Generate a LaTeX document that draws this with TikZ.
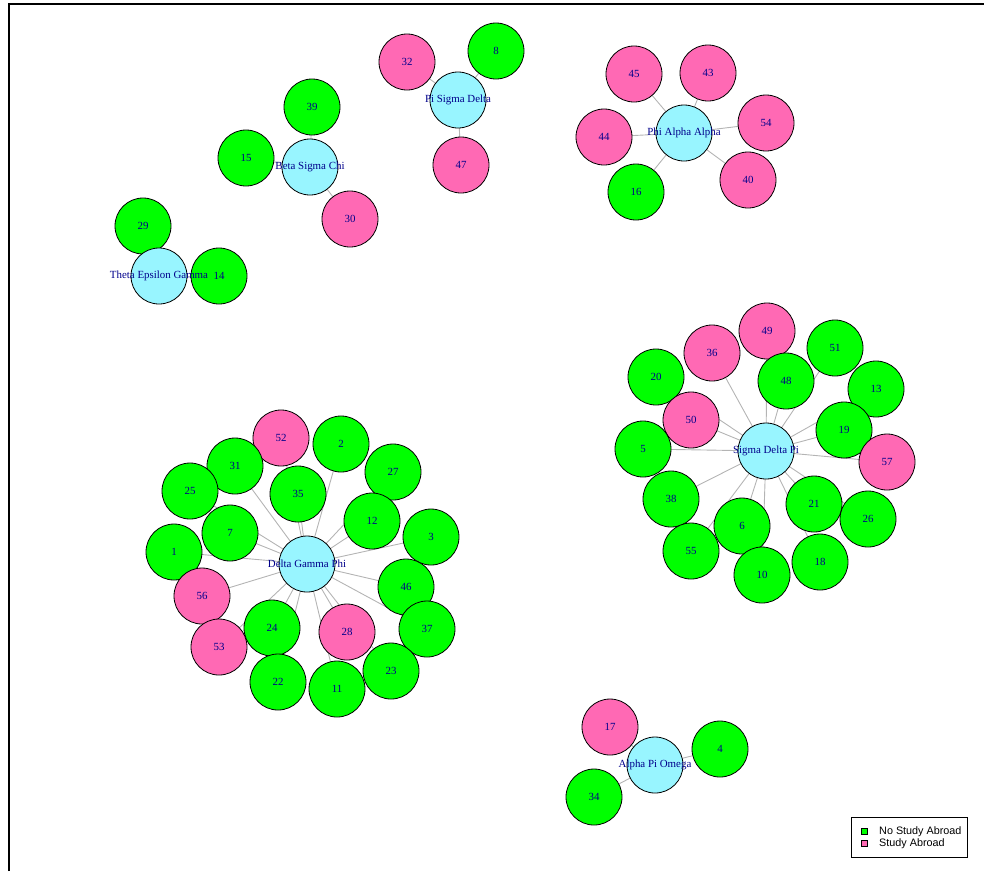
\documentclass[tikz,border=0pt]{standalone}
\usepackage{fontspec}
\setmainfont{Liberation Serif}
\newfontfamily\legfont{Liberation Sans}
\usetikzlibrary{backgrounds}
\definecolor{ngreen}{RGB}{0,255,0}
\definecolor{npink}{RGB}{255,105,180}
\definecolor{ncyan}{RGB}{152,245,255}
\definecolor{labblue}{RGB}{0,0,139}
\definecolor{edgegray}{RGB}{180,180,180}
\tikzset{
  vbase/.style={circle,draw=black,line width=0.8pt,minimum size=56pt,inner sep=0pt,
    font=\fontsize{10.9}{12}\selectfont,text=labblue},
  gnode/.style={vbase,fill=ngreen},
  pnode/.style={vbase,fill=npink},
  cnode/.style={vbase,fill=ncyan},
  clab/.style={inner sep=0pt,font=\fontsize{10.9}{12}\selectfont,text=labblue},
  edge/.style={draw=edgegray,line width=0.9pt},
  legsq/.style={draw=black,line width=0.6pt,minimum size=6pt,inner sep=0pt},
  legtxt/.style={anchor=west,inner sep=0pt,font=\legfont\fontsize{10.8}{12}\selectfont}
}
\begin{document}
\begin{tikzpicture}[x=1pt,y=-1pt]
\useasboundingbox (0,0) rectangle (984,871);
% frame
\draw[line width=2pt] (9,871) coordinate (fbl) -- (9,4.3) coordinate (ftl) -- (984,4.3) coordinate (ftr);

% Theta Epsilon Gamma
\node[gnode] (n29) at (143,226) {29};
\node[cnode] (teg) at (159,276) {};
\node[gnode] (n14) at (219,276) {14};
% Beta Sigma Chi
\node[gnode] (n39) at (312,107) {39};
\node[gnode] (n15) at (246,158) {15};
\node[cnode] (bsc) at (310,167) {};
\node[pnode] (n30) at (350,219) {30};
% Pi Sigma Delta
\node[pnode] (n32) at (407,62) {32};
\node[gnode] (n8) at (496,51) {8};
\node[cnode] (psd) at (458,100) {};
\node[pnode] (n47) at (461,165) {47};
% Phi Alpha Alpha
\node[pnode] (n45) at (634,74) {45};
\node[pnode] (n43) at (708,73) {43};
\node[pnode] (n54) at (766,123) {54};
\node[pnode] (n44) at (604,137) {44};
\node[cnode] (paa) at (684,133) {};
\node[gnode] (n16) at (636,192) {16};
\node[pnode] (n40) at (748,180) {40};
% Delta Gamma Phi
\node[cnode] (dgp) at (307,564) {};
\node[pnode] (n52) at (281,438) {52};
\node[gnode] (n2) at (341,444) {2};
\node[gnode] (n31) at (235,466) {31};
\node[gnode] (n27) at (393,472) {27};
\node[gnode] (n25) at (190,491) {25};
\node[gnode] (n35) at (298,494) {35};
\node[gnode] (n12) at (372,521) {12};
\node[gnode] (n7) at (230,533) {7};
\node[gnode] (n3) at (431,537) {3};
\node[gnode] (n1) at (174,552) {1};
\node[gnode] (n46) at (406,587) {46};
\node[pnode] (n56) at (202,596) {56};
\node[gnode] (n37) at (427,629) {37};
\node[gnode] (n24) at (272,628) {24};
\node[pnode] (n28) at (347,632) {28};
\node[pnode] (n53) at (219,647) {53};
\node[gnode] (n23) at (391,671) {23};
\node[gnode] (n22) at (278,682) {22};
\node[gnode] (n11) at (337,689) {11};
% Sigma Delta Pi
\node[cnode] (sdp) at (766,451) {};
\node[pnode] (n49) at (767,331) {49};
\node[gnode] (n51) at (835,348) {51};
\node[pnode] (n36) at (712,353) {36};
\node[gnode] (n20) at (656,377) {20};
\node[gnode] (n48) at (786,381) {48};
\node[gnode] (n13) at (876,389) {13};
\node[pnode] (n50) at (691,420) {50};
\node[gnode] (n19) at (844,430) {19};
\node[gnode] (n5) at (643,449) {5};
\node[pnode] (n57) at (887,462) {57};
\node[gnode] (n38) at (671,499) {38};
\node[gnode] (n21) at (814,504) {21};
\node[gnode] (n26) at (868,519) {26};
\node[gnode] (n6) at (742,526) {6};
\node[gnode] (n55) at (691,551) {55};
\node[gnode] (n18) at (820,562) {18};
\node[gnode] (n10) at (762,575) {10};
% Alpha Pi Omega
\node[pnode] (n17) at (610,727) {17};
\node[gnode] (n4) at (720,749) {4};
\node[cnode] (apo) at (655,765) {};
\node[gnode] (n34) at (594,797) {34};

% centre labels on top
\node[clab] (tegl) at (teg.center) {Theta Epsilon Gamma};
\node[clab] (bscl) at (bsc.center) {Beta Sigma Chi};
\node[clab] (psdl) at (psd.center) {Pi Sigma Delta};
\node[clab] (paal) at (paa.center) {Phi Alpha Alpha};
\node[clab] (dgpl) at (dgp.center) {Delta Gamma Phi};
\node[clab] (sdpl) at (sdp.center) {Sigma Delta Pi};
\node[clab] (apol) at (apo.center) {Alpha Pi Omega};

% edges
\begin{scope}[on background layer]
\foreach \v in {n29,n14} \draw[edge] (teg.center) -- (\v.center);
\foreach \v in {n39,n15,n30} \draw[edge] (bsc.center) -- (\v.center);
\foreach \v in {n32,n8,n47} \draw[edge] (psd.center) -- (\v.center);
\foreach \v in {n45,n43,n54,n44,n16,n40} \draw[edge] (paa.center) -- (\v.center);
\foreach \v in {n52,n2,n31,n27,n25,n35,n12,n7,n3,n1,n46,n56,n37,n24,n28,n53,n23,n22,n11}
  \draw[edge] (dgp.center) -- (\v.center);
\foreach \v in {n49,n51,n36,n20,n48,n13,n50,n19,n5,n57,n38,n21,n26,n6,n55,n18,n10}
  \draw[edge] (sdp.center) -- (\v.center);
\foreach \v in {n17,n4,n34} \draw[edge] (apo.center) -- (\v.center);
\end{scope}

% legend
\node[draw=black,line width=0.6pt,fill=white,minimum width=115.5pt,minimum height=40pt,inner sep=0pt] (leg) at (909.5,837) {};
\node[legsq,fill=ngreen] (lg1) at (864,831.5) {};
\node[legsq,fill=npink] (lg2) at (864,843.5) {};
\node[legtxt] (lt1) at (879,831.5) {No Study Abroad};
\node[legtxt] (lt2) at (879,843.5) {Study Abroad};
\end{tikzpicture}
\end{document}
